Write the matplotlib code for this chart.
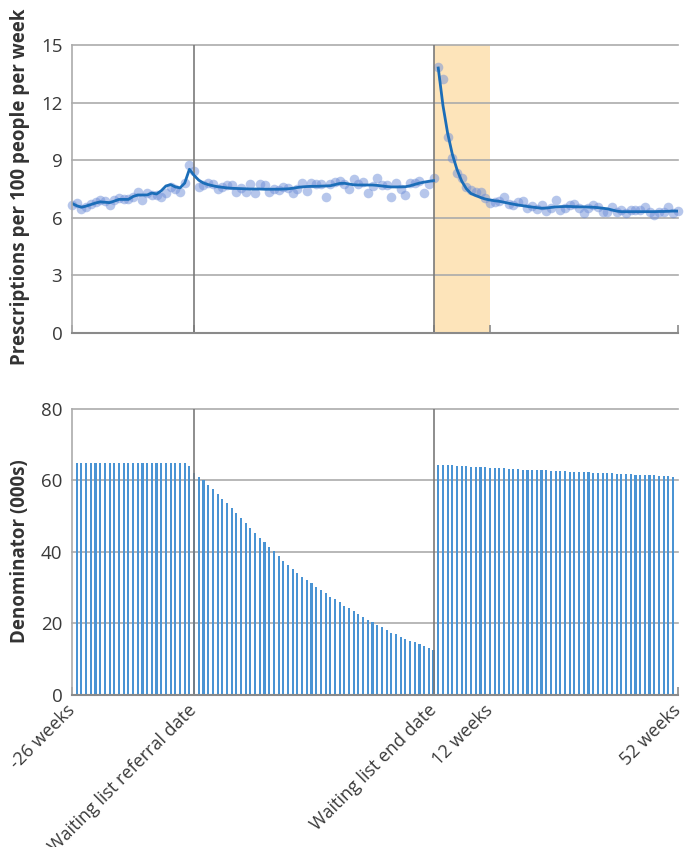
import matplotlib
matplotlib.use("Agg")
import matplotlib.pyplot as plt
import numpy as np

plt.rcParams['font.family'] = ['Open Sans', 'DejaVu Sans']

# ---- data (x = weekly index: 0..25 pre, 26..77 waiting list, 78..129 after) ----
pre_rate = [6.66, 6.74, 6.45, 6.54, 6.70, 6.80, 6.90, 6.85, 6.67, 6.90, 7.00, 6.95, 6.95,
            7.10, 7.32, 6.92, 7.30, 7.20, 7.20, 7.10, 7.30, 7.60, 7.50, 7.35, 7.79, 8.74]
wait_rate = [8.45, 7.60, 7.70, 7.82, 7.75, 7.47, 7.60, 7.70, 7.70, 7.32, 7.53, 7.35, 7.73,
             7.27, 7.73, 7.70, 7.35, 7.47, 7.44, 7.61, 7.56, 7.27, 7.47, 7.79, 7.39, 7.79,
             7.75, 7.75, 7.09, 7.75, 7.87, 7.93, 7.75, 7.47, 8.01, 7.75, 7.87, 7.30, 7.65,
             8.05, 7.70, 7.70, 7.06, 7.82, 7.47, 7.18, 7.79, 7.82, 7.93, 7.30, 7.75, 8.05]
post_rate = [13.84, 13.21, 10.19, 9.13, 8.31, 8.05, 7.61, 7.44, 7.35, 7.32, 7.00, 6.78, 6.83,
             6.88, 7.09, 6.71, 6.66, 6.83, 6.87, 6.48, 6.61, 6.43, 6.66, 6.36, 6.48, 6.92,
             6.40, 6.48, 6.66, 6.71, 6.48, 6.26, 6.48, 6.66, 6.54, 6.31, 6.31, 6.57, 6.31,
             6.40, 6.26, 6.40, 6.40, 6.40, 6.57, 6.31, 6.14, 6.31, 6.31, 6.57, 6.26, 6.34]

pre_fit = [6.74, 6.62, 6.54, 6.60, 6.68, 6.76, 6.82, 6.80, 6.78, 6.86, 6.95, 6.95, 6.95,
           7.10, 7.18, 7.18, 7.18, 7.28, 7.23, 7.40, 7.65, 7.72, 7.60, 7.55, 7.80, 8.52]
wait_fit = [8.20, 7.95, 7.80, 7.72, 7.66, 7.61, 7.58, 7.55, 7.53, 7.52, 7.51, 7.50, 7.49,
            7.49, 7.49, 7.48, 7.48, 7.48, 7.48, 7.49, 7.50, 7.53, 7.57, 7.60, 7.62, 7.63,
            7.63, 7.64, 7.65, 7.66, 7.72, 7.78, 7.79, 7.75, 7.71, 7.70, 7.70, 7.70, 7.70,
            7.68, 7.65, 7.62, 7.60, 7.60, 7.60, 7.61, 7.66, 7.73, 7.80, 7.85, 7.89, 7.93]
post_fit = [13.80, 11.85, 10.40, 9.30, 8.50, 7.90, 7.50, 7.25, 7.15, 7.05, 6.97, 6.92, 6.88,
            6.85, 6.80, 6.75, 6.70, 6.66, 6.62, 6.58, 6.55, 6.52, 6.49, 6.50, 6.53, 6.56,
            6.57, 6.58, 6.58, 6.57, 6.56, 6.56, 6.55, 6.54, 6.52, 6.49, 6.46, 6.40, 6.34,
            6.31, 6.31, 6.31, 6.31, 6.31, 6.31, 6.31, 6.31, 6.32, 6.32, 6.33, 6.34, 6.34]

pre_denom = [64.8, 64.8, 64.8, 64.8, 64.8, 64.8, 64.8, 64.8, 64.8, 64.8, 64.8, 64.8, 64.8,
             64.8, 64.8, 64.8, 64.8, 64.8, 64.8, 64.8, 64.8, 64.8, 64.8, 64.8, 64.1]
wait_denom = [62.0, 61.1, 60.1, 58.7, 57.5, 56.2, 54.9, 53.6, 52.2, 50.8, 49.4, 48.0, 46.6,
              45.2, 44.0, 42.7, 41.3, 40.3, 38.9, 37.6, 36.4, 35.2, 34.2, 33.1, 32.2, 31.2,
              30.3, 29.4, 28.4, 27.5, 26.8, 25.9, 25.0, 24.2, 23.4, 22.6, 21.7, 21.0, 20.3,
              19.6, 18.9, 18.2, 17.4, 17.0, 16.3, 15.7, 15.2, 14.7, 14.2, 13.7, 13.1, 12.6]
post_denom = [64.4, 64.3, 64.2, 64.2, 64.1, 64.0, 63.9, 63.8, 63.8, 63.7, 63.7, 63.5, 63.4,
              63.4, 63.4, 63.3, 63.2, 63.1, 63.0, 63.0, 63.0, 62.9, 62.8, 62.8, 62.7, 62.7,
              62.7, 62.6, 62.5, 62.5, 62.4, 62.4, 62.3, 62.2, 62.2, 62.1, 62.1, 62.1, 61.9,
              61.9, 61.9, 61.7, 61.6, 61.6, 61.5, 61.4, 61.4, 61.3, 61.3, 61.2, 61.0]

tick_pos = [0, 26, 77, 89, 129]
tick_labels = ['-26 weeks', 'Waiting list referral date', 'Waiting list end date',
               '12 weeks', '52 weeks']
REFERRAL, END, SHADE_END = 26, 77, 89

# ---- x positions ----
x_pre = np.arange(0, 26)
x_wait = np.arange(26, 26 + len(wait_rate))
x_post = np.arange(78, 78 + len(post_rate))
xb_pre = np.arange(1, 1 + len(pre_denom))
xb_wait = np.arange(26, 26 + len(wait_denom))
xb_post = np.arange(78, 78 + len(post_denom))

GRID = '#ababab'
VLINE = '#7a7a7a'
SPINE = '#8a8a8a'
TXT = '#3a3a3a'
LINEC = '#1b6db8'
PTC = '#6f8fd8'
BARC = '#4a94d4'

fig = plt.figure(figsize=(6.84, 8.47), dpi=100)
ax1 = fig.add_axes([0.1053, 0.6072, 0.8855, 0.3397])
ax2 = fig.add_axes([0.1053, 0.1795, 0.8855, 0.3377])

for ax in (ax1, ax2):
    ax.set_xlim(0, 129)
    for s in ('top', 'right'):
        ax.spines[s].set_visible(False)
    ax.spines['left'].set_color(GRID)
    ax.spines['left'].set_linewidth(1.2)
    ax.spines['bottom'].set_color(SPINE)
    ax.spines['bottom'].set_linewidth(1.5)
    ax.spines['bottom'].set_zorder(6)
    ax.spines['left'].set_zorder(6)
    ax.grid(axis='y', color=GRID, linewidth=1.2, zorder=1)
    ax.set_axisbelow(False)
    ax.tick_params(axis='y', length=0, labelsize=13.5, labelcolor=TXT, pad=7)
    ax.tick_params(axis='x', direction='in', length=5.5, width=1.2, color=SPINE)
    ax.set_xticks(tick_pos)
    ax.axvline(REFERRAL, color=VLINE, linewidth=1.2, zorder=4)
    ax.axvline(END, color=VLINE, linewidth=1.2, zorder=4)

# ---- top panel ----
ax1.set_ylim(0, 15)
ax1.set_yticks([0, 3, 6, 9, 12, 15])
ax1.axvspan(END, SHADE_END, color='#fde4ba', zorder=0, linewidth=0)
ax1.set_xticklabels([])
ax1.scatter(np.concatenate([x_pre, x_wait, x_post]),
            np.concatenate([pre_rate, wait_rate, post_rate]),
            s=48, color=PTC, alpha=0.5, linewidths=0, zorder=3, clip_on=False)
ax1.plot(np.concatenate([x_pre, x_wait]), np.concatenate([pre_fit, wait_fit]),
         color=LINEC, linewidth=2.0, zorder=5, solid_joinstyle='round')
ax1.plot(x_post, post_fit, color=LINEC, linewidth=2.0, zorder=5, solid_joinstyle='round')
for gl in ax1.get_ygridlines():
    gl.set_clip_on(False)

# ---- bottom panel ----
ax2.set_ylim(0, 80)
ax2.set_yticks([0, 20, 40, 60, 80])
for xs, ys in ((xb_pre, pre_denom), (xb_wait, wait_denom), (xb_post, post_denom)):
    ax2.bar(xs, ys, width=0.45, color=BARC, linewidth=0, zorder=3)
for gl in ax2.get_ygridlines():
    gl.set_clip_on(False)
ax2.set_xticklabels(tick_labels, rotation=45, ha='right', va='center',
                    rotation_mode='anchor', fontsize=13, color=TXT)
ax2.tick_params(axis='x', pad=9)

fig.text(20 / 684, 1 - 187 / 847, 'Prescriptions per 100 people per week', rotation=90,
         ha='center', va='center', fontsize=13.5, fontweight='bold', color='#333333')
fig.text(20 / 684, 1 - 551 / 847, 'Denominator (000s)', rotation=90,
         ha='center', va='center', fontsize=13.5, fontweight='bold', color='#333333')

fig.savefig('out.png', dpi=100)
